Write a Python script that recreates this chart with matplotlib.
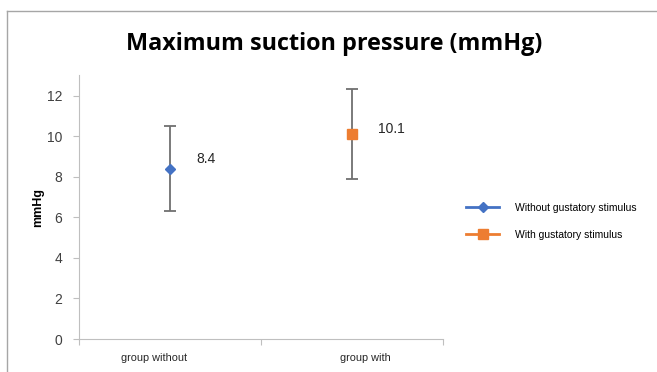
import matplotlib.pyplot as plt
from matplotlib.lines import Line2D

# data
groups = ["group without", "group with"]
series = ["Without gustatory stimulus", "With gustatory stimulus"]
means = [8.4, 10.1]
errors = [2.1, 2.2]
colors = ["#4472C4", "#ED7D31"]
markers = ["D", "s"]
label_dy = [7, 4]  # vertical offset of the value labels, points

plt.rcParams["font.family"] = ["Liberation Sans", "DejaVu Sans"]

fig = plt.figure(figsize=(6.57, 3.72), dpi=100)
ax = fig.add_axes([0.1202, 0.0887, 0.5541, 0.709])

# chart frame
fig.add_artist(Line2D([7 / 657, 1], [1 - 11 / 372, 1 - 11 / 372], color="#a6a6a6", lw=1))
fig.add_artist(Line2D([7 / 657, 7 / 657], [0, 1 - 11 / 372], color="#a6a6a6", lw=1))

xpos = [0.5, 1.5]
handles = []
for i in range(2):
    ax.errorbar(xpos[i], means[i], yerr=errors[i], fmt="none", ecolor="#707070",
                elinewidth=1.3, capsize=4, capthick=1.3, zorder=2)
    ax.plot(xpos[i], means[i], marker=markers[i], color=colors[i],
            markersize=5.5 if i == 0 else 7, linestyle="none", zorder=3)
    ax.annotate(f"{means[i]}", (xpos[i], means[i]), xytext=(19, label_dy[i]),
                textcoords="offset points", fontsize=10, color="#262626",
                ha="left", va="center")
    handles.append(Line2D([], [], color=colors[i], marker=markers[i], lw=2,
                          markersize=5 if i == 0 else 7, label=series[i]))

ax.set_xlim(0, 2)
ax.set_ylim(0, 13)
ax.set_yticks(range(0, 13, 2))
ax.set_xticks([0, 1, 2])
ax.set_xticklabels([])
ax.set_xticks([0.415, 1.574], minor=True)
ax.set_xticklabels(groups, minor=True, fontsize=7.8, color="#262626")
ax.tick_params(axis="x", which="minor", length=0, pad=10)
ax.tick_params(axis="x", which="major", length=4, color="#bfbfbf")
ax.tick_params(axis="y", length=4, color="#bfbfbf", labelsize=10, labelcolor="#404040", pad=8)

for s in ["top", "right"]:
    ax.spines[s].set_visible(False)
for s in ["left", "bottom"]:
    ax.spines[s].set_color("#bfbfbf")

ax.set_ylabel("mmHg", fontsize=9, fontweight="bold", labelpad=2)

fig.text(0.508, 0.881, "Maximum suction pressure (mmHg)", ha="center", va="center",
         fontsize=16.8, fontweight="bold", family=["Open Sans", "DejaVu Sans"])

fig.legend(handles=handles, loc="center left", bbox_to_anchor=(0.695, 0.405),
           frameon=False, fontsize=7.5, handlelength=3.2, labelspacing=1.6,
           handletextpad=1.5)

fig.savefig("out.png", dpi=100)
